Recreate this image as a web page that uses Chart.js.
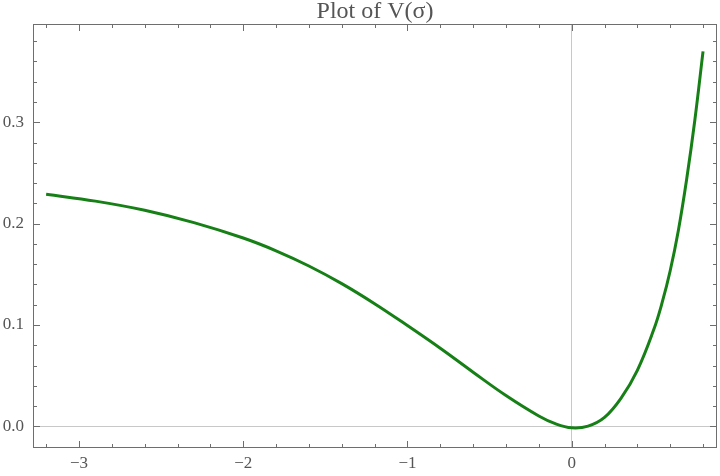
<!DOCTYPE html>
<html>
<head>
    <title>Plot of V(σ)</title>
    <style>
        body { margin: 0; background: #fff; }
        #wrap { width: 720px; height: 476px; }
    </style>
</head>
<body>
<div id="wrap">
    <canvas id="potentialChart"></canvas>
</div>

<script src="https://cdn.jsdelivr.net/npm/chart.js"></script>
<script>
    // values
    const sigma = [-3.2, -2.9, -2.6, -2.3, -2.0, -1.8, -1.6, -1.4, -1.2, -1.0, -0.8, -0.6, -0.4,
        -0.2, -0.1, 0.0, 0.1, 0.2, 0.3, 0.4, 0.5, 0.55, 0.6, 0.65, 0.7, 0.75, 0.8];
    const potential = [0.2290, 0.2222, 0.2132, 0.2010, 0.1858, 0.1732, 0.1582, 0.1408, 0.1210, 0.0994,
        0.0770, 0.0534, 0.0304, 0.0102, 0.0026, -0.0015, 0.0002, 0.0088, 0.0276, 0.0553, 0.0955,
        0.1215, 0.1535, 0.1935, 0.2435, 0.302, 0.370];
    const xMajorTicks = [-3, -2, -1, 0];
    const yMajorTicks = [0.0, 0.1, 0.2, 0.3];
    const xMinorTicks = [-3.2, -2.8, -2.6, -2.4, -2.2, -1.8, -1.6, -1.4, -1.2, -0.8, -0.6, -0.4, -0.2, 0.2, 0.4, 0.6, 0.8];
    const yMinorTicks = [-0.02, 0.02, 0.04, 0.06, 0.08, 0.12, 0.14, 0.16, 0.18, 0.22, 0.24, 0.26, 0.28, 0.32, 0.34, 0.36, 0.38];

    const points = sigma.map((s, i) => ({x: s, y: potential[i]}));

    const frameColor = '#6e6e6e';
    const textColor = '#555555';

    // mathematica style frame, ticks pointing inwards on all four sides
    const frameTicks = {
        id: 'frameTicks',
        afterDraw(chart) {
            const ctx = chart.ctx;
            const a = chart.chartArea;
            const xs = chart.scales.x;
            const ys = chart.scales.y;
            ctx.save();
            ctx.strokeStyle = frameColor;
            ctx.lineWidth = 1;
            ctx.strokeRect(a.left + 0.5, a.top + 0.5, a.right - a.left - 1, a.bottom - a.top - 1);

            function xTick(v, len) {
                const px = Math.round(xs.getPixelForValue(v)) + 0.5;
                ctx.beginPath();
                ctx.moveTo(px, a.bottom); ctx.lineTo(px, a.bottom - len);
                ctx.moveTo(px, a.top); ctx.lineTo(px, a.top + len);
                ctx.stroke();
            }
            function yTick(v, len) {
                const py = Math.round(ys.getPixelForValue(v)) + 0.5;
                ctx.beginPath();
                ctx.moveTo(a.left, py); ctx.lineTo(a.left + len, py);
                ctx.moveTo(a.right, py); ctx.lineTo(a.right - len, py);
                ctx.stroke();
            }
            xMajorTicks.forEach(v => xTick(v, 7));
            xMinorTicks.forEach(v => xTick(v, 4));
            yMajorTicks.forEach(v => yTick(v, 7));
            yMinorTicks.forEach(v => yTick(v, 4));
            ctx.restore();
        }
    };

    const zeroGrid = (ctx) => (ctx.tick && Math.abs(ctx.tick.value) < 1e-9 ? '#c8c8c8' : 'rgba(0,0,0,0)');

    const chart = new Chart(document.getElementById('potentialChart'), {
        type: 'scatter',
        data: {
            datasets: [{
                label: 'V(σ)',
                data: points,
                showLine: true,
                borderColor: 'rgb(22,128,22)',
                backgroundColor: 'rgb(22,128,22)',
                borderWidth: 3,
                pointRadius: 0,
                tension: 0.4,
            }]
        },
        options: {
            responsive: true,
            maintainAspectRatio: false,
            animation: false,
            layout: {padding: {left: 0, right: 3, top: 0, bottom: 0}},
            plugins: {
                legend: {display: false},
                tooltip: {enabled: false},
                title: {
                    display: true,
                    text: 'Plot of V(σ)',
                    fullSize: false,
                    color: textColor,
                    font: {family: 'Liberation Serif', size: 24, weight: 'normal', lineHeight: 1},
                    padding: {top: 0, bottom: 0},
                }
            },
            scales: {
                x: {
                    type: 'linear',
                    min: -3.28,
                    max: 0.885,
                    afterFit(scale) { scale.height = 28; },
                    border: {display: false},
                    grid: {color: zeroGrid, drawTicks: false, lineWidth: 1},
                    ticks: {
                        stepSize: 1,
                        includeBounds: false,
                        padding: 5,
                        color: textColor,
                        maxRotation: 0,
                        font: {family: 'Liberation Serif', size: 17},
                        callback: v => (v < 0 ? '\u2212' + Math.abs(v) : String(v)),
                    }
                },
                y: {
                    type: 'linear',
                    min: -0.0214,
                    max: 0.397,
                    afterFit(scale) { scale.width = 33; },
                    border: {display: false},
                    grid: {color: zeroGrid, drawTicks: false, lineWidth: 1},
                    ticks: {
                        stepSize: 0.1,
                        includeBounds: false,
                        padding: 9,
                        color: textColor,
                        font: {family: 'Liberation Serif', size: 17},
                        callback: v => Number(v).toFixed(1),
                    }
                }
            }
        },
        plugins: [frameTicks]
    });
</script>
</body>
</html>
